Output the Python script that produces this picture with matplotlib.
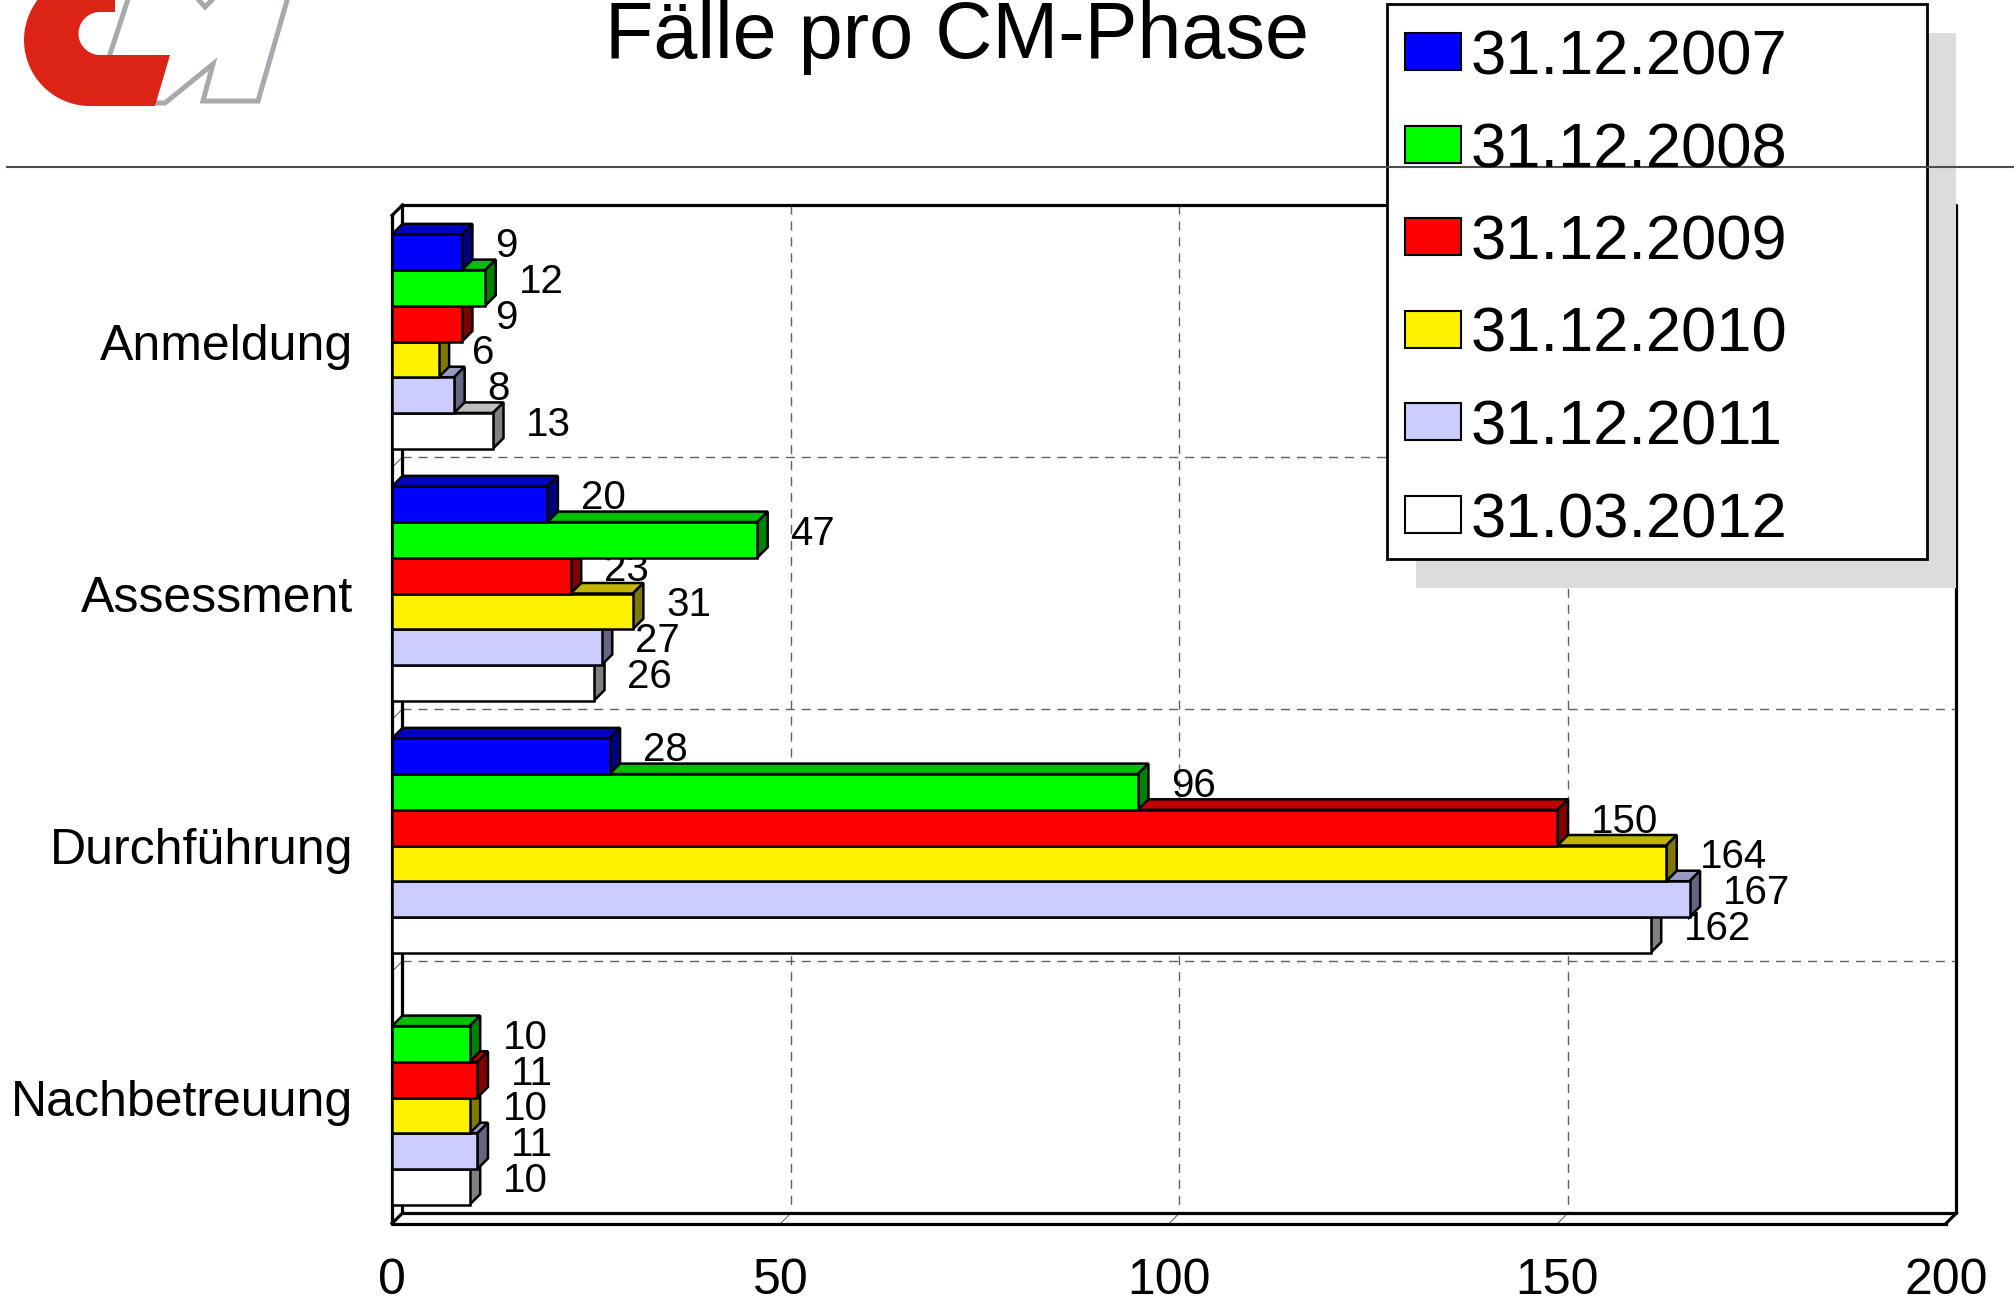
import matplotlib
matplotlib.use("Agg")
import matplotlib.pyplot as plt
from matplotlib.patches import Polygon, Rectangle
from matplotlib.colors import to_rgb
import numpy as np

plt.rcParams['font.family'] = ['Liberation Sans', 'DejaVu Sans']

# Daten
phases = ["Anmeldung", "Assessment", "Durchführung", "Nachbetreuung"]
dates = ["31.12.2007", "31.12.2008", "31.12.2009", "31.12.2010", "31.12.2011", "31.03.2012"]
colors = ["#0000ff", "#00ff00", "#ff0000", "#fff200", "#ccccff", "#ffffff"]
v_2007 = [9, 20, 28, None]
v_2008 = [12, 47, 96, 10]
v_2009 = [9, 23, 150, 11]
v_2010 = [6, 31, 164, 10]
v_2011 = [8, 27, 167, 11]
v_2012 = [13, 26, 162, 10]
series = [v_2007, v_2008, v_2009, v_2010, v_2011, v_2012]
x_ticks = [0, 50, 100, 150, 200]
title = "Fälle pro CM-Phase"

W, H = 2015, 1300
fig = plt.figure(figsize=(W / 100, H / 100), dpi=100)

# Vorderebene des Diagramms (Pixel)
px_left, px_right, px_top, px_bottom = 392, 1946, 215.5, 1223.5
ax = fig.add_axes([px_left / W, (H - px_bottom) / H, (px_right - px_left) / W, (px_bottom - px_top) / H])
xmax = x_ticks[-1]
ncat = len(phases)
ax.set_xlim(0, xmax)
ax.set_ylim(ncat, 0)
for s in ax.spines.values():
    s.set_visible(False)
ax.patch.set_visible(False)

# 3D-Tiefe (10.5 px) in Datenkoordinaten
DX = 10.5 * xmax / (px_right - px_left)
DY = 10.5 * ncat / (px_bottom - px_top)

n = len(series)
bh = 0.1417
m = (1 - n * bh) / 2

# Gitterlinien auf der Rückwand
grid_kw = dict(color="#606060", lw=1.0, ls=(0, (6.5, 5)), zorder=1, clip_on=False)
for x in x_ticks[1:-1]:
    ax.plot([x + DX, x + DX], [-DY, ncat - DY], **grid_kw)
    ax.plot([x, x + DX], [ncat, ncat - DY], color="#555555", lw=0.7, zorder=1, clip_on=False)
for y in range(1, ncat):
    ax.plot([DX, xmax + DX], [y - DY, y - DY], **grid_kw)
    ax.plot([0, DX], [y, y - DY], color="#555555", lw=0.7, zorder=1, clip_on=False)

# Rahmen
frame_kw = dict(color="black", lw=2.3, zorder=2, clip_on=False, solid_capstyle="projecting")
ax.plot([DX, xmax + DX, xmax + DX, DX, DX], [-DY, -DY, ncat - DY, ncat - DY, -DY], **frame_kw)
ax.plot([0, 0, xmax], [0, ncat, ncat], **frame_kw)
ax.plot([0, DX], [0, -DY], **frame_kw)
ax.plot([0, DX], [ncat, ncat - DY], **frame_kw)
ax.plot([xmax, xmax + DX], [ncat, ncat - DY], **frame_kw)

# Balken (unterste Serie zuerst, damit die oberen davor liegen)
for i in range(n - 1, -1, -1):
    base = to_rgb(colors[i])
    top_c = tuple(0.75 * c for c in base)
    side_c = tuple(0.5 * c for c in base)
    z = 10 + (n - i)
    for c, v in enumerate(series[i]):
        if v is None:
            continue
        y0 = c + m + i * bh
        y1 = y0 + bh
        ax.barh(y0 + bh / 2, v, height=bh, color=colors[i], edgecolor="black", lw=1.8, zorder=z + 0.5)
        ax.add_patch(Polygon([(0, y0), (v, y0), (v + DX, y0 - DY), (DX, y0 - DY)], closed=True,
                             fc=top_c, ec="black", lw=1.8, zorder=z, clip_on=False))
        ax.add_patch(Polygon([(v, y0), (v, y1), (v + DX, y1 - DY), (v + DX, y0 - DY)], closed=True,
                             fc=side_c, ec="black", lw=1.8, zorder=z, clip_on=False))
        ax.annotate(str(v), (v, y0 + bh / 2), xytext=(24, 7.2), textcoords="offset points",
                    ha="left", va="center_baseline", fontsize=29, zorder=5)

ax.set_xticks(x_ticks, [str(t) for t in x_ticks])
ax.set_yticks([c + 0.5 for c in range(ncat)], phases)
ax.tick_params(axis="both", length=0)
ax.tick_params(axis="x", labelsize=36, pad=25.0)
ax.tick_params(axis="y", labelsize=36, pad=28)
for t in ax.get_yticklabels():
    t.set_va("center_baseline")

fig.text(957 / W, 1 - 58 / H, title, fontsize=57, ha="center", va="baseline")

# Overlay: Logo, Trennlinie, Legende (Pixelkoordinaten)
ov = fig.add_axes([0, 0, 1, 1], zorder=50)
ov.set_xlim(0, W)
ov.set_ylim(H, 0)
ov.axis("off")
ov.patch.set_visible(False)

ov.plot([7, W], [167, 167], color="#4d4d4d", lw=1.5)

# Logo: graues M
m_pts = [(94, 103), (131, -10), (190, -10), (205, 7), (222, -10), (290, -10),
         (258, 101), (203, 101), (213, 64), (165, 103)]
ov.add_patch(Polygon(m_pts, closed=True, fc="none", ec="#a8a9ad", lw=3.6, joinstyle="miter"))
# Logo: rotes C
cx, cy, r = 90, 40, 66
t_out = np.linspace(np.pi + np.arcsin(45 / r), np.pi / 2, 40)
outer = [(cx + r * np.cos(t), cy + r * np.sin(t)) for t in t_out]
t_in = np.linspace(np.pi / 2, 3 * np.pi / 2, 30)
inner = [(100 + 21.5 * np.cos(t), 33.5 + 21.5 * np.sin(t)) for t in t_in]
c_pts = outer + [(155, 106), (170, 55)] + inner + [(115, 12), (115, -5)]
ov.add_patch(Polygon(c_pts, closed=True, fc="#dc2416", ec="none"))

# Legende mit Schatten
lx0, ly0, lwid, lhei = 1387, 4, 540, 555
ov.add_patch(Rectangle((lx0 + 29, ly0 + 29), lwid, lhei, fc="#dcdcdc", ec="none"))
ov.add_patch(Rectangle((lx0, ly0), lwid, lhei, fc="white", ec="black", lw=2))
for i, (d, col) in enumerate(zip(dates, colors)):
    yc = 51.5 + i * 92.5
    ov.add_patch(Rectangle((1405, yc - 18.5), 56, 37, fc=col, ec="black", lw=1.5))
    ov.text(1471, yc, d, fontsize=45.5, ha="left", va="center_baseline")

fig.savefig("out.png", dpi=100)
